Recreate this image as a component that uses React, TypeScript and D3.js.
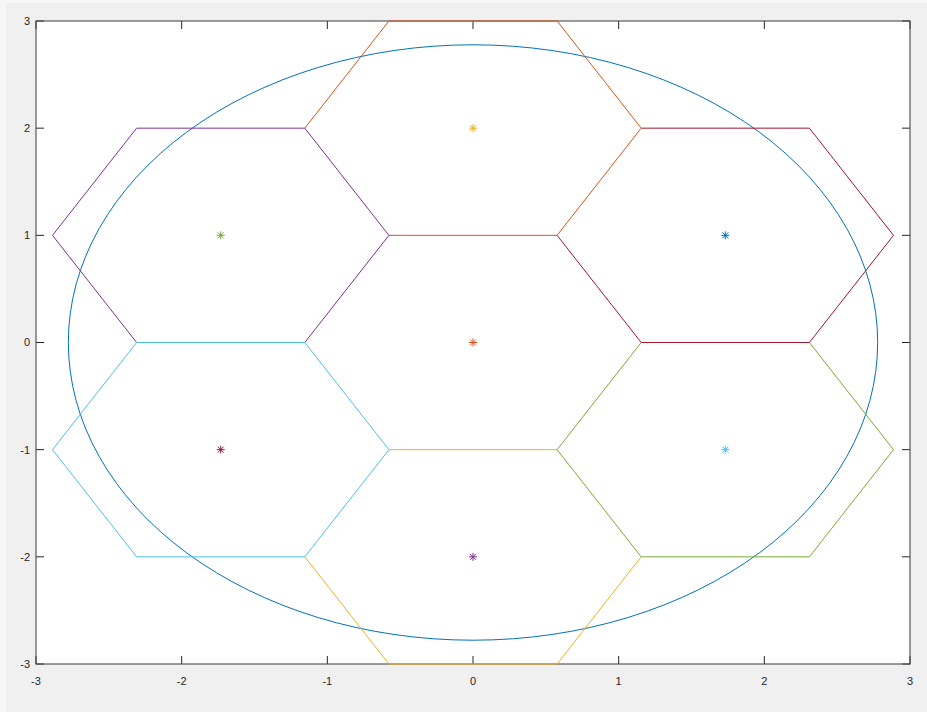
import React from "react";
import * as d3 from "d3";

// Cell centres of a seven-cell hexagonal cluster, in plotting order
const cellNames = ["c0", "south", "southEast", "northEast", "north", "northWest", "southWest"];
const cellX = [0, 0, 1.732, 1.732, 0, -1.732, -1.732];
const cellY = [0, -2, -1, 1, 2, 1, -1];
const hexColors = ["#0072BD", "#EDB120", "#77AC30", "#A2142F", "#D95319", "#7E2F8E", "#4DBEEE"];
const markerColors = ["#D95319", "#7E2F8E", "#4DBEEE", "#0072BD", "#EDB120", "#77AC30", "#A2142F"];
const hexRadius = 1.1547;
const circleRadius = 2.778;
const xTicks = [-3, -2, -1, 0, 1, 2, 3];
const yTicks = [-3, -2, -1, 0, 1, 2, 3];

const W = 927;
const H = 712;
const left = 36;
const right = 910;
const top = 21;
const bottom = 664;

type Edge = { a: [number, number]; b: [number, number]; color: string };

export default function App() {
  const x = d3.scaleLinear().domain([-3, 3]).range([left, right]);
  const y = d3.scaleLinear().domain([-3, 3]).range([bottom, top]);

  // Each hexagon is split into its six sides; a side shared with a hexagon
  // plotted later takes the later colour, as an overdraw would.
  const edgeMap = new Map<string, Edge>();
  const key = (p: [number, number]) =>
    `${Math.round(p[0] * 100) + 0},${Math.round(p[1] * 100) + 0}`;
  cellNames.forEach((_, i) => {
    const pts: [number, number][] = d3.range(7).map((k) => {
      const ang = (k * Math.PI) / 3;
      return [cellX[i] + hexRadius * Math.cos(ang), cellY[i] + hexRadius * Math.sin(ang)];
    });
    for (let k = 0; k < 6; k++) {
      const a = pts[k];
      const b = pts[k + 1];
      const ka = key(a);
      const kb = key(b);
      const id = ka < kb ? ka + "|" + kb : kb + "|" + ka;
      edgeMap.delete(id);
      edgeMap.set(id, { a, b, color: hexColors[i] });
    }
  });
  const edges = Array.from(edgeMap.entries());

  const tickLen = 8;
  const axisColor = "#262626";
  const font = "'Liberation Sans', Arial, Helvetica, sans-serif";
  const lw = 1;

  return (
    <div style={{ position: "fixed", left: 0, top: 0, width: W, height: H }}>
      <svg width={W} height={H} style={{ display: "block" }}>
        <rect x={0} y={0} width={W} height={H} fill="#f7f7f7" />
        <rect x={6} y={3} width={W - 6} height={H - 3} fill="#f0f0f0" />
        <rect x={left} y={top} width={right - left} height={bottom - top} fill="#ffffff" />

        {/* ticks on all four sides */}
        <g stroke={axisColor} strokeWidth={1}>
          {xTicks.map((t) => (
            <g key={"xt" + t}>
              <line x1={x(t)} x2={x(t)} y1={bottom} y2={bottom - tickLen} />
              <line x1={x(t)} x2={x(t)} y1={top} y2={top + tickLen} />
            </g>
          ))}
          {yTicks.map((t) => (
            <g key={"yt" + t}>
              <line x1={left} x2={left + tickLen} y1={y(t)} y2={y(t)} />
              <line x1={right} x2={right - tickLen} y1={y(t)} y2={y(t)} />
            </g>
          ))}
        </g>

        <rect
          x={left}
          y={top}
          width={right - left}
          height={bottom - top}
          fill="none"
          stroke="#4a4a4a"
          strokeWidth={1.1}
        />

        <g fill="none" strokeWidth={lw}>
          <ellipse
            cx={x(0)}
            cy={y(0)}
            rx={x(circleRadius) - x(0)}
            ry={y(0) - y(circleRadius)}
            stroke="#0072BD"
          />
          {edges.map(([id, e]) => (
            <line
              key={id}
              x1={x(e.a[0])}
              y1={y(e.a[1])}
              x2={x(e.b[0])}
              y2={y(e.b[1])}
              stroke={e.color}
            />
          ))}
          {cellNames.map((name, i) => {
            const px = x(cellX[i]);
            const py = y(cellY[i]);
            const a = 4;
            const b = 3;
            return (
              <g key={"m" + name} stroke={markerColors[i]}>
                <line x1={px - a} y1={py} x2={px + a} y2={py} />
                <line x1={px} y1={py - a} x2={px} y2={py + a} />
                <line x1={px - b} y1={py - b} x2={px + b} y2={py + b} />
                <line x1={px - b} y1={py + b} x2={px + b} y2={py - b} />
              </g>
            );
          })}
        </g>

        <g fontFamily={font} fontSize={11} fill={axisColor}>
          {xTicks.map((t) => (
            <text key={"xl" + t} x={x(t)} y={bottom + 18} textAnchor="middle" dominantBaseline="middle">
              {t}
            </text>
          ))}
          {yTicks.map((t) => (
            <text key={"yl" + t} x={left - 6} y={y(t) + 1} textAnchor="end" dominantBaseline="middle">
              {t}
            </text>
          ))}
        </g>
      </svg>
    </div>
  );
}
